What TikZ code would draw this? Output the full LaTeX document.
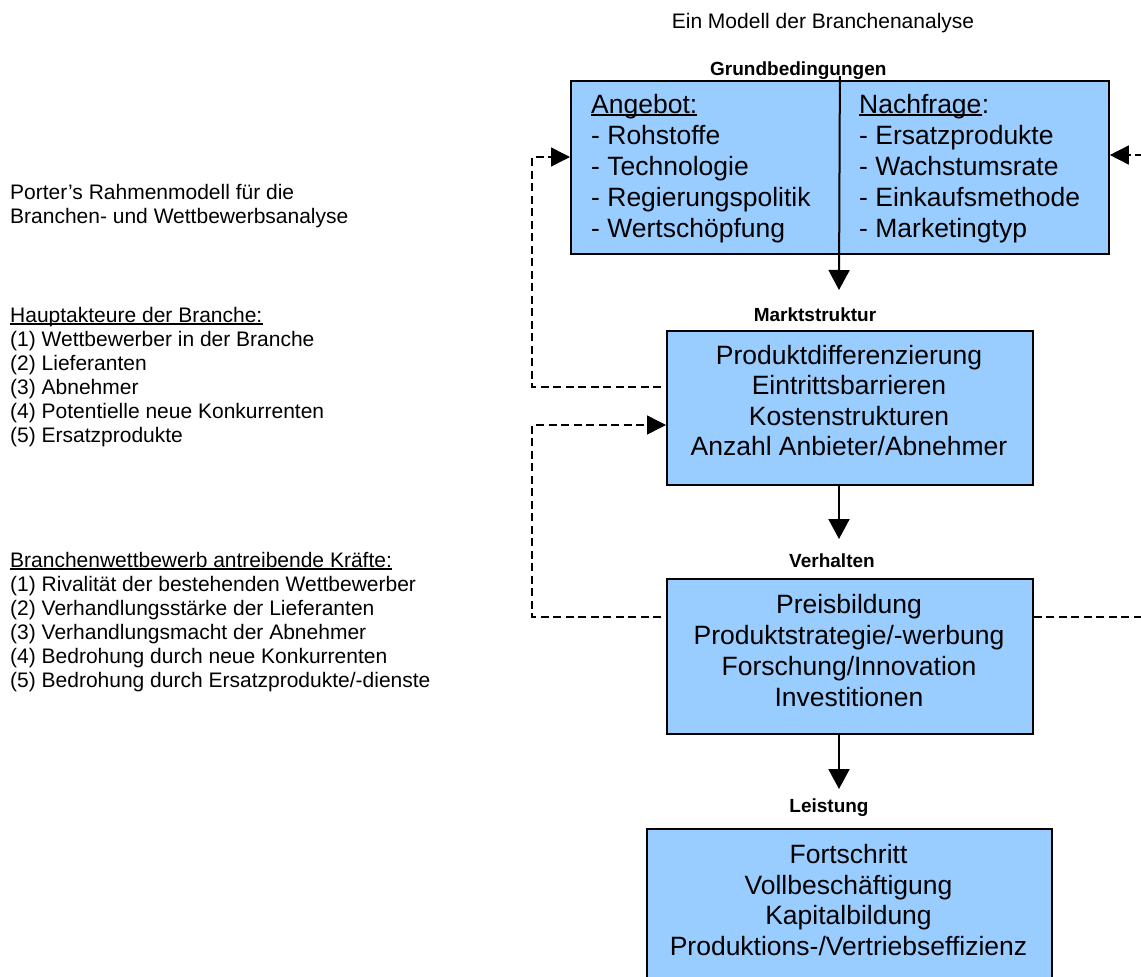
\documentclass[tikz,border=0pt]{standalone}
\usepackage{fontspec}
\setmainfont{Liberation Sans}
\usetikzlibrary{arrows.meta}
\definecolor{boxblue}{RGB}{153,204,255}
\tikzset{
  box/.style={draw=black, line width=1.8pt, fill=boxblue, inner sep=0pt, anchor=north west},
  big/.style={font=\fontsize{26.5}{30}\selectfont, inner sep=0pt},
  bigl/.style={big, anchor=base west},
  bigc/.style={big, anchor=base},
  small/.style={font=\fontsize{21}{24}\selectfont, inner sep=0pt, anchor=base west},
  lbl/.style={font=\fontsize{19}{22}\selectfont\bfseries, inner sep=0pt, anchor=base},
  arr/.style={line width=2pt, -{Triangle[length=20pt,width=21pt]}},
  darr/.style={line width=1.5pt, dash pattern=on 8pt off 4.5pt, -{Triangle[length=19pt,width=19pt]}},
  uline/.style={line width=1.5pt},
  sline/.style={line width=1.2pt}
}
\begin{document}
\begin{tikzpicture}[x=1pt,y=-1pt]
\useasboundingbox (0,0) rectangle (1141,977);
\clip (0,0) rectangle (1141,977);

% title
\node[font=\fontsize{21}{24}\selectfont, inner sep=0pt, anchor=base] (title) at (823,28) {Ein Modell der Branchenanalyse};

% left texts
\node[small] (p1) at (10,199) {Porter’s Rahmenmodell für die};
\node[small] (p2) at (10,223) {Branchen- und Wettbewerbsanalyse};

\node[small] (h0) at (10,322) {Hauptakteure der Branche:};
\draw[sline] ([yshift=-2pt]h0.base west) -- ([yshift=-2pt]h0.base east);
\node[small] (h1) at (10,346) {(1) Wettbewerber in der Branche};
\node[small] (h2) at (10,370) {(2) Lieferanten};
\node[small] (h3) at (10,394) {(3) Abnehmer};
\node[small] (h4) at (10,418) {(4) Potentielle neue Konkurrenten};
\node[small] (h5) at (10,442) {(5) Ersatzprodukte};

\node[small] (k0) at (10,567) {Branchenwettbewerb antreibende Kräfte:};
\draw[sline] ([yshift=-2pt]k0.base west) -- ([yshift=-2pt]k0.base east);
\node[small] (k1) at (10,591) {(1) Rivalität der bestehenden Wettbewerber};
\node[small] (k2) at (10,615) {(2) Verhandlungsstärke der Lieferanten};
\node[small] (k3) at (10,639) {(3) Verhandlungsmacht der Abnehmer};
\node[small] (k4) at (10,663) {(4) Bedrohung durch neue Konkurrenten};
\node[small] (k5) at (10,687) {(5) Bedrohung durch Ersatzprodukte/-dienste};

% Grundbedingungen
\node[lbl, anchor=base west] (lgb) at (710,75) {Grundbedingungen};
\node[box, minimum width=538pt, minimum height=173pt] (gb) at (570,80) {};
\node[bigl] (an) at (591,113) {Angebot:};
\draw[uline] ([yshift=-2pt]an.base west) -- ([yshift=-2pt]an.base east);
\node[bigl] (a1) at (591,144) {- Rohstoffe};
\node[bigl] (a2) at (591,175) {- Technologie};
\node[bigl] (a3) at (591,206) {- Regierungspolitik};
\node[bigl] (a4) at (591,237) {- Wertschöpfung};
\node[bigl] (nf) at (859,113) {Nachfrage};
\node[bigl, anchor=base west] (nfc) at (nf.base east) {:};
\draw[uline] ([yshift=-2pt]nf.base west) -- ([yshift=-2pt]nf.base east);
\node[bigl] (n1) at (859,144) {- Ersatzprodukte};
\node[bigl] (n2) at (859,175) {- Wachstumsrate};
\node[bigl] (n3) at (859,206) {- Einkaufsmethode};
\node[bigl] (n4) at (859,237) {- Marketingtyp};

% Marktstruktur
\node[lbl] (lms) at (815,321) {Marktstruktur};
\node[box, minimum width=366pt, minimum height=154pt] (ms) at (666,330) {};
\node[bigc] (m1) at (849,364) {Produktdifferenzierung};
\node[bigc] (m2) at (849,394.5) {Eintrittsbarrieren};
\node[bigc] (m3) at (849,425) {Kostenstrukturen};
\node[bigc] (m4) at (849,455.5) {Anzahl Anbieter/Abnehmer};

% Verhalten
\node[lbl] (lvh) at (832,567) {Verhalten};
\node[box, minimum width=366pt, minimum height=155pt] (vh) at (666,578) {};
\node[bigc] (v1) at (849,613.5) {Preisbildung};
\node[bigc] (v2) at (849,644.5) {Produktstrategie/-werbung};
\node[bigc] (v3) at (849,675) {Forschung/Innovation};
\node[bigc] (v4) at (849,706) {Investitionen};

% Leistung
\node[lbl] (lle) at (829,812) {Leistung};
\node[box, minimum width=405pt, minimum height=170pt] (le) at (646,828) {};
\node[bigc] (e1) at (848.5,863) {Fortschritt};
\node[bigc] (e2) at (848.5,894) {Vollbeschäftigung};
\node[bigc] (e3) at (848.5,924.5) {Kapitalbildung};
\node[bigc] (e4) at (848.5,955) {Produktions-/Vertriebseffizienz};

% solid arrows
\coordinate (t1) at (839,290);
\coordinate (t2) at (839,539);
\coordinate (t3) at (839,789);
\draw[arr] ([yshift=4pt]gb.north) -- (t1);
\draw[arr] (t2 |- ms.south) -- (t2);
\draw[arr] (t3 |- vh.south) -- (t3);

% dashed feedback
\coordinate (l1) at (532,387);
\coordinate (l2) at (532,157);
\coordinate (l3) at (532,617);
\coordinate (l4) at (532,425);
\coordinate (r1) at (1170,617);
\coordinate (r2) at (1170,155);
\draw[darr] ([xshift=-5pt]l1 -| ms.west) -- (l1) -- (l2) -- (l2 -| gb.west);
\draw[darr] ([xshift=-5pt]l3 -| vh.west) -- (l3) -- (l4) -- (l4 -| ms.west);
\draw[darr] (r1 -| vh.east) -- (r1) -- (r2) -- (r2 -| gb.east);
\end{tikzpicture}
\end{document}
